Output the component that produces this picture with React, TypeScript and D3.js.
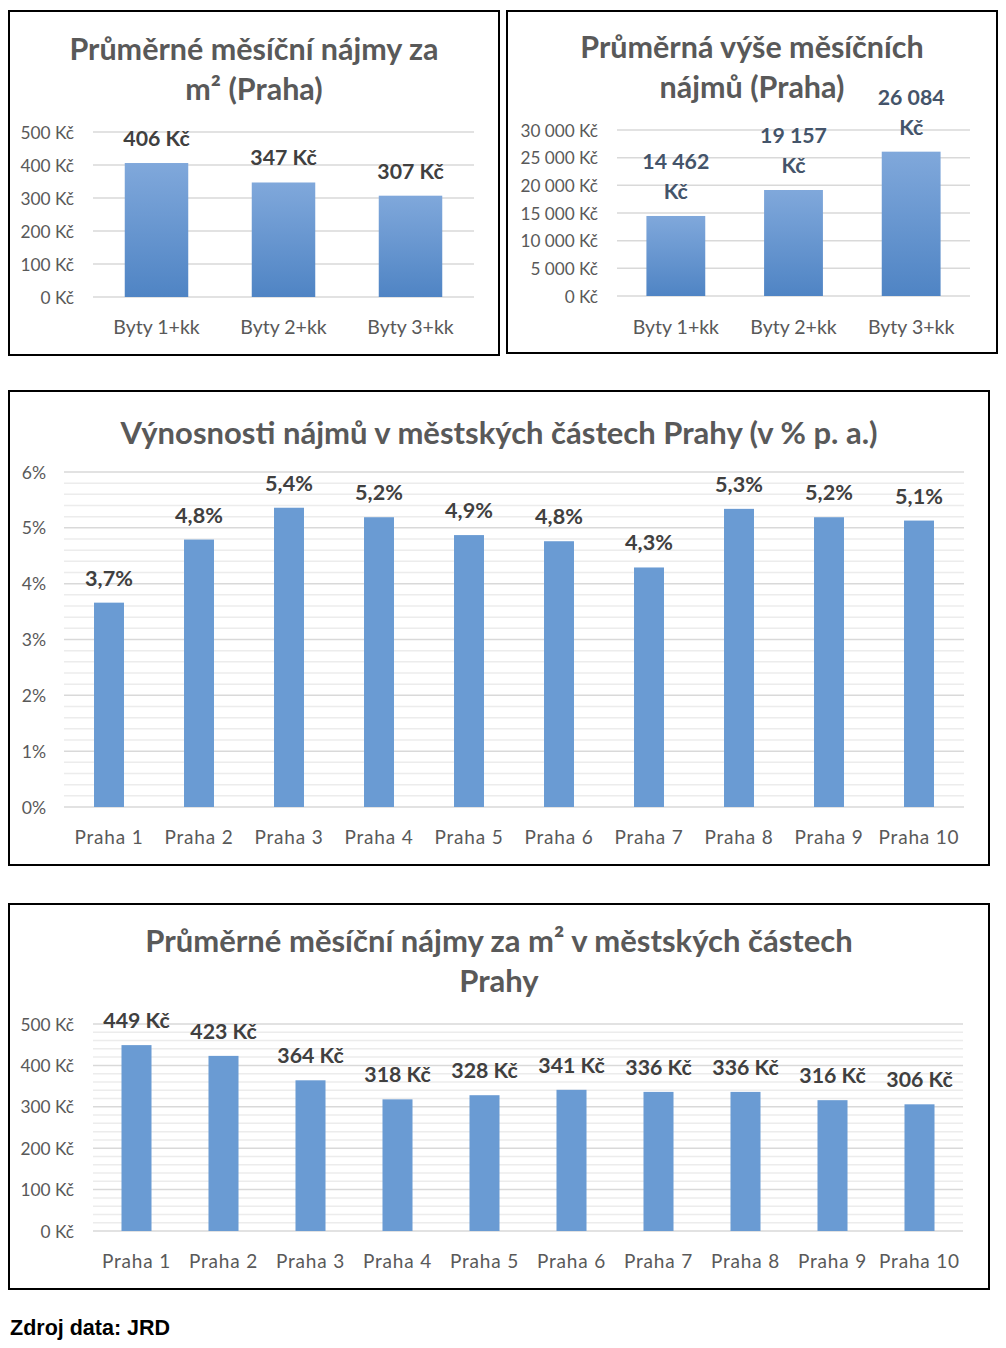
import React from 'react';
import * as d3 from 'd3';

// data
const flatTypes = ['Byty 1+kk', 'Byty 2+kk', 'Byty 3+kk'];
const rentPerM2 = [406, 347, 307];
const rentMonthly = [14462, 19157, 26084];
const districts = ['Praha 1', 'Praha 2', 'Praha 3', 'Praha 4', 'Praha 5', 'Praha 6', 'Praha 7', 'Praha 8', 'Praha 9', 'Praha 10'];
const yields = [3.66, 4.79, 5.36, 5.19, 4.87, 4.76, 4.29, 5.34, 5.19, 5.13];
const districtRentPerM2 = [449, 423, 364, 318, 328, 341, 336, 336, 316, 306];

const FONT = 'Lato, "Open Sans", sans-serif';
const AXIS_COLOR = '#595959';

// "14 462 Kč" style
const spaced = (v: number) => d3.format(',')(v).replace(/,/g, ' ');
const kc = (v: number) => `${spaced(v)} Kč`;
const pct = (v: number) => `${v.toFixed(1).replace('.', ',')}%`;

type PanelProps = {
  box: { x: number; y: number; w: number; h: number };
  title: string[];
  titleY: number[];
  titleSize: number;
  categories: string[];
  values: number[];
  max: number;
  step: number;
  minorStep?: number;
  tickFmt: (v: number) => string;
  labelLines: (v: number) => string[];
  labelColor: string;
  labelSize: number;
  plot: { left: number; right: number; top: number; bottom: number };
  padding: number;
  tickX: number;
  tickSize: number;
  catY: number;
  catSize: number;
  catSpacing?: number;
  gradient?: boolean;
  id: string;
};

const BarPanel = (p: PanelProps) => {
  const x = d3.scaleBand().domain(p.categories).range([p.plot.left, p.plot.right]).paddingInner(p.padding).paddingOuter(p.padding / 2);
  const y = d3.scaleLinear().domain([0, p.max]).range([p.plot.bottom, p.plot.top]);
  const major = d3.range(0, p.max + p.step / 2, p.step);
  const minor = p.minorStep ? d3.range(0, p.max + p.minorStep / 2, p.minorStep).filter(v => Math.abs(v / p.step - Math.round(v / p.step)) > 1e-6) : [];
  const fill = p.gradient ? `url(#grad-${p.id})` : '#6a9bd3';
  return (
    <g>
      {p.gradient && (
        <defs>
          <linearGradient id={`grad-${p.id}`} x1="0" y1="0" x2="0" y2="1">
            <stop offset="0%" stopColor="#80a8db" />
            <stop offset="100%" stopColor="#4f84c4" />
          </linearGradient>
        </defs>
      )}
      <rect x={p.box.x} y={p.box.y} width={p.box.w} height={p.box.h} fill="#fff" stroke="#000" strokeWidth={2} />
      {p.title.map((t, i) => (
        <text key={i} x={p.box.x + p.box.w / 2} y={p.titleY[i]} textAnchor="middle" dominantBaseline="central"
          fontFamily={FONT} fontWeight="bold" fontSize={p.titleSize} fill={AXIS_COLOR}>{t}</text>
      ))}
      {minor.map(v => (
        <line key={'m' + v} x1={p.plot.left} x2={p.plot.right} y1={y(v)} y2={y(v)} stroke="#ececec" strokeWidth={1.5} />
      ))}
      {major.map(v => (
        <g key={'M' + v}>
          <line x1={p.plot.left} x2={p.plot.right} y1={y(v)} y2={y(v)} stroke="#d9d9d9" strokeWidth={1.5} />
          <text x={p.tickX} y={y(v)} textAnchor="end" dominantBaseline="central" fontFamily={FONT}
            fontSize={p.tickSize} fill={AXIS_COLOR}>{p.tickFmt(v)}</text>
        </g>
      ))}
      {p.values.map((v, i) => {
        const c = p.categories[i];
        const bx = x(c) ?? 0;
        const lines = p.labelLines(v);
        const lh = 30;
        return (
          <g key={c}>
            <rect x={bx} y={y(v)} width={x.bandwidth()} height={y(0) - y(v)} fill={fill} />
            {lines.map((l, j) => (
              <text key={j} x={bx + x.bandwidth() / 2} y={y(v) - 25 - (lines.length - 1 - j) * lh}
                textAnchor="middle" dominantBaseline="central" fontFamily={FONT} fontWeight="bold"
                fontSize={p.labelSize} fill={p.labelColor}>{l}</text>
            ))}
          </g>
        );
      })}
      {p.categories.map(c => (
        <text key={'c' + c} x={(x(c) ?? 0) + x.bandwidth() / 2} y={p.catY} textAnchor="middle" dominantBaseline="central"
          fontFamily={FONT} fontSize={p.catSize} fill={AXIS_COLOR} letterSpacing={p.catSpacing ?? 0}>{c}</text>
      ))}
    </g>
  );
};

const App = () => (
  <svg width={1006} height={1348} style={{ position: 'absolute', left: 0, top: 0, background: '#fff' }}>
    <BarPanel id="a" box={{ x: 9, y: 11, w: 490, h: 344 }}
      title={['Průměrné měsíční nájmy za', 'm² (Praha)']} titleY={[48, 88]} titleSize={30.5}
      categories={flatTypes} values={rentPerM2} max={500} step={100}
      tickFmt={v => kc(v)} labelLines={v => [kc(v)]} labelColor="#404040" labelSize={21.3}
      plot={{ left: 93, right: 474, top: 132, bottom: 297 }} padding={0.5}
      tickX={74} tickSize={17.3} catY={326} catSize={19.5} gradient />
    <BarPanel id="b" box={{ x: 507, y: 11, w: 490, h: 342 }}
      title={['Průměrná výše měsíčních', 'nájmů (Praha)']} titleY={[46, 86]} titleSize={30.5}
      categories={flatTypes} values={rentMonthly} max={30000} step={5000}
      tickFmt={v => kc(v)} labelLines={v => [spaced(v), 'Kč']} labelColor="#44546a" labelSize={21.3}
      plot={{ left: 617, right: 970, top: 130, bottom: 296 }} padding={0.5}
      tickX={598} tickSize={17.2} catY={326} catSize={19.5} gradient />
    <BarPanel id="c" box={{ x: 9, y: 391, w: 980, h: 474 }}
      title={['Výnosnosti nájmů v městských částech Prahy (v % p. a.)']} titleY={[432]} titleSize={31}
      categories={districts} values={yields} max={6} step={1} minorStep={0.2}
      tickFmt={v => `${v}%`} labelLines={v => [pct(v)]} labelColor="#404040" labelSize={21.6}
      plot={{ left: 64, right: 964, top: 472, bottom: 807 }} padding={0.667}
      tickX={46} tickSize={17.6} catY={836} catSize={19} catSpacing={0.8} />
    <BarPanel id="d" box={{ x: 9, y: 904, w: 980, h: 385 }}
      title={['Průměrné měsíční nájmy za m² v městských částech', 'Prahy']} titleY={[940, 980]} titleSize={31}
      categories={districts} values={districtRentPerM2} max={500} step={100} minorStep={20}
      tickFmt={v => kc(v)} labelLines={v => [kc(v)]} labelColor="#404040" labelSize={21.3}
      plot={{ left: 93, right: 963, top: 1024, bottom: 1231 }} padding={0.655}
      tickX={74} tickSize={17.3} catY={1260} catSize={19} catSpacing={0.8} />
    <text x={10} y={1328} dominantBaseline="central" fontFamily='"Liberation Sans", Arial, sans-serif'
      fontWeight="bold" fontSize={21.5} fill="#000">Zdroj data: JRD</text>
  </svg>
);

export default App;
